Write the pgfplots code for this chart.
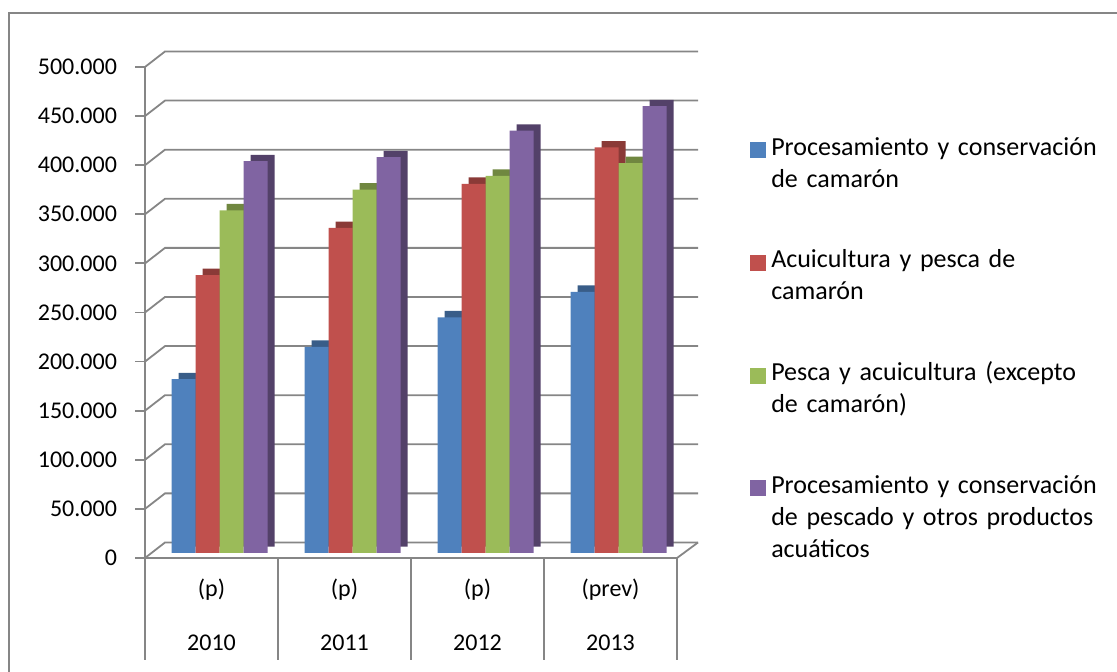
\documentclass[border=0pt]{standalone}
\usepackage{fontspec}
\setmainfont{Carlito}
\usepackage{pgfplots}
\usepackage{pgfplotstable}
\pgfplotsset{compat=1.18}
\definecolor{cblue}{RGB}{79,129,189}
\definecolor{cred}{RGB}{192,80,77}
\definecolor{cgreen}{RGB}{155,187,89}
\definecolor{cpurple}{RGB}{128,100,162}
\definecolor{gridgray}{RGB}{134,134,134}

\pgfplotstableread{
x v
0 177
1 210
2 240
3 266
}\procCam
\pgfplotstableread{
x v
0 283
1 331
2 376
3 413
}\acuiCam
\pgfplotstableread{
x v
0 349
1 370
2 384
3 397
}\pescaAcui
\pgfplotstableread{
x v
0 399
1 403
2 430
3 455
}\procPesc

\begin{document}
\begin{tikzpicture}
\useasboundingbox (0,0) rectangle (558.5pt,336pt);
\draw[gridgray, line width=1pt] (4.25pt,-2pt) -- (4.25pt,329.5pt) -- (562pt,329.5pt);

% frame axis
\begin{axis}[
  at={(72.5pt,57pt)}, anchor=south west,
  scale only axis, width=266pt, height=245.5pt,
  xmin=-0.5, xmax=3.5, ymin=0, ymax=500,
  clip=false,
  axis lines*=left,
  axis line style={gridgray, line width=0.9pt, -},
  ytick={0,50,...,500},
  yticklabels={0,50.000,100.000,150.000,200.000,250.000,300.000,350.000,400.000,450.000,500.000},
  ytick style={gridgray, line width=0.9pt},
  tick align=outside,
  major tick length=5pt,
  xtick={0,1,2,3},
  xticklabels={{(p)\\2010},{(p)\\2011},{(p)\\2012},{(prev)\\2013}},
  xtick style={draw=none},
  x tick label style={align=center, font=\fontsize{12}{27}\selectfont, yshift=-2pt},
  y tick label style={font=\fontsize{12}{14}\selectfont, anchor=east, xshift=-5.5pt},
]
\pgfplotsinvokeforeach{0,50,100,150,200,250,300,350,400,450,500}{
  \draw[gridgray, line width=0.9pt] (axis cs:-0.5,#1) -- ([shift={(10pt,7.75pt)}]axis cs:-0.5,#1) -- ([shift={(10.5pt,7.75pt)}]axis cs:3.5,#1);
}
\draw[gridgray, line width=0.9pt] (axis cs:3.5,0) -- ([shift={(10.5pt,7.75pt)}]axis cs:3.5,0);
\pgfplotsinvokeforeach{-0.5,0.5,1.5,2.5,3.5}{
  \draw[gridgray, line width=0.9pt] (axis cs:#1,0) -- ([yshift=-51pt]axis cs:#1,0);
}
\end{axis}

% bars axis
\begin{axis}[
  at={(72.5pt,57pt)}, anchor=south west,
  scale only axis, width=266pt, height=245.5pt,
  xmin=-0.5, xmax=3.5, ymin=0, ymax=500,
  clip=false, hide axis,
  bar width=12pt,
  legend image code/.code={\fill[#1] (0pt,-6.5pt) rectangle (8pt,1.5pt);},
  legend cell align=left,
  legend style={at={(1.137,0.867)}, anchor=north west, draw=none, fill=none,
    inner sep=0pt, row sep=43.5pt, column sep=2.5pt,
    font=\fontsize{13}{16}\selectfont,
    nodes={text width=190pt, align=left, inner sep=0pt}},
]
% depth faces
\addplot[ybar, bar shift=-18pt, fill=cblue!72!black, draw=none, xshift=7.6pt, yshift=5.7pt, forget plot] table[x=x,y=v] {\procCam};
\addplot[ybar, bar shift=-6pt, fill=cred!72!black, draw=none, xshift=7.6pt, yshift=5.7pt, forget plot] table[x=x,y=v] {\acuiCam};
\addplot[ybar, bar shift=6pt, fill=cgreen!72!black, draw=none, xshift=7.6pt, yshift=5.7pt, forget plot] table[x=x,y=v] {\pescaAcui};
\addplot[ybar, bar shift=18pt, fill=cpurple!65!black, draw=none, xshift=7.6pt, yshift=5.7pt, forget plot] table[x=x,y=v] {\procPesc};
% front faces
\addplot[ybar, bar shift=-18pt, fill=cblue, draw=none, xshift=4pt, yshift=2.5pt, forget plot] table[x=x,y=v] {\procCam};
\addplot[ybar, bar shift=-6pt, fill=cred, draw=none, xshift=4pt, yshift=2.5pt, forget plot] table[x=x,y=v] {\acuiCam};
\addplot[ybar, bar shift=6pt, fill=cgreen, draw=none, xshift=4pt, yshift=2.5pt, forget plot] table[x=x,y=v] {\pescaAcui};
\addplot[ybar, bar shift=18pt, fill=cpurple, draw=none, xshift=4pt, yshift=2.5pt, forget plot] table[x=x,y=v] {\procPesc};
\addlegendimage{fill=cblue, draw=none}
\addlegendentry{\strut Procesamiento y conservación\\de camarón\strut}
\addlegendimage{fill=cred, draw=none}
\addlegendentry{\strut Acuicultura y pesca de\\camarón\strut}
\addlegendimage{fill=cgreen, draw=none}
\addlegendentry{\strut Pesca y acuicultura (excepto\\de camarón)\strut}
\addlegendimage{fill=cpurple, draw=none}
\addlegendentry{\strut Procesamiento y conservación\\de pescado y otros productos\\acuáticos\strut}
\end{axis}
\end{tikzpicture}
\end{document}
